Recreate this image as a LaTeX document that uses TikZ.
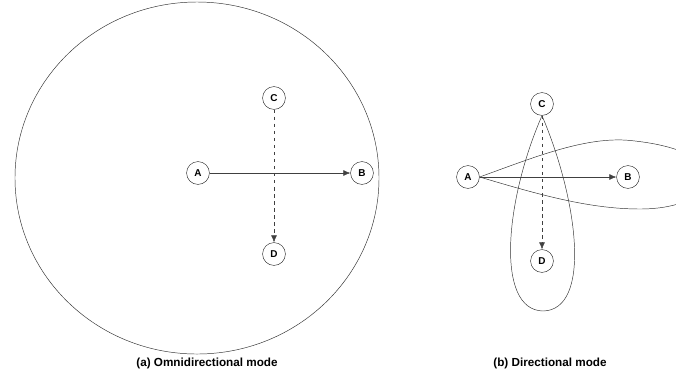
\documentclass[tikz,border=0pt]{standalone}
\usepackage{fontspec}
\setmainfont{Liberation Sans}
\usepackage{tikz}
\usetikzlibrary{arrows.meta}

\begin{document}
\begin{tikzpicture}[
  x=0.03cm, y=-0.03cm,
  station/.style={
      draw=black!80,
      circle,
      thin,
      minimum size=19.5pt,
      inner sep=0pt,
      font=\fontsize{8.5}{10}\selectfont\bfseries
  },
  arr/.style={-{Latex[length=6pt,width=5pt]}, draw=black!75, thin},
  lobe/.style={draw=black!80, thin},
  caption/.style={font=\fontsize{10}{12}\selectfont\bfseries}
]
\useasboundingbox (0,0) rectangle (676,378);

% (a) omnidirectional
\draw[lobe] (197,178) ellipse [x radius=5.46cm, y radius=5.28cm];
\node[station] (omniA) at (198,173) {A};
\node[station] (omniB) at (362,173) {B};
\node[station] (omniC) at (274,98)  {C};
\node[station] (omniD) at (274,254) {D};
\draw[arr] (omniA) -- (omniB);
\draw[arr, dashed] (omniC) -- (omniD);
\node[caption] (capA) at (207,363) {(a) Omnidirectional mode};

% (b) directional
\node[station] (dirA) at (468,177) {A};
\node[station] (dirB) at (628,177) {B};
\node[station] (dirC) at (542,104) {C};
\node[station] (dirD) at (542,261) {D};
\draw[lobe] (dirC.south) .. controls (505,200) and (495,310) .. (543,311)
  .. controls (592,310) and (578,200) .. (dirC.south);
\draw[lobe] (dirA.east) .. controls (540,155) and (590,135) .. (635,141)
  .. controls (680,146) and (708,160) .. (708,177)
  .. controls (708,195) and (680,209) .. (640,209)
  .. controls (590,209) and (540,195) .. (dirA.east);
\draw[arr] (dirA) -- (dirB);
\draw[arr, dashed] (dirC) -- (dirD);
\node[caption] (capB) at (550,363) {(b) Directional mode};

\end{tikzpicture}
\end{document}
